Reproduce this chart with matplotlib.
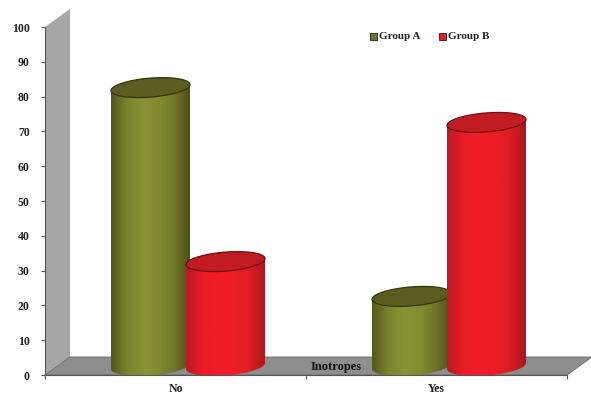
import numpy as np
import matplotlib
matplotlib.use("Agg")
import matplotlib.pyplot as plt
from matplotlib.colors import LinearSegmentedColormap
from matplotlib.patches import Polygon, PathPatch, Rectangle
from matplotlib.path import Path

categories = ["No", "Yes"]
group_a = [80, 20]
group_b = [30, 70]
y_ticks = [0, 10, 20, 30, 40, 50, 60, 70, 80, 90, 100]

plt.rcParams['font.family'] = ['Liberation Serif', 'DejaVu Serif']
plt.rcParams['font.weight'] = 'bold'

W, H = 591, 394
fig = plt.figure(figsize=(W / 100, H / 100), dpi=100)
ax = fig.add_axes([45 / W, (H - 375) / H, (567 - 45) / W, (375 - 27) / H])
ax.set_xlim(0, 2)
ax.set_ylim(0, 100)

px_x = 2 / (567 - 45)
px_y = 100 / (375 - 27)
depth_x = 25 * px_x
depth_y = 18 * px_y

# back wall and floor
ax.add_patch(Polygon([(0, 0), (depth_x, depth_y), (depth_x, 100 + depth_y), (0, 100)],
                     closed=True, fc="#a6a6a6", ec="none", clip_on=False, zorder=1))
ax.add_patch(Polygon([(0, 0), (depth_x, depth_y), (2 + depth_x, depth_y), (2, 0)],
                     closed=True, fc="#8e8e8e", ec="#6a6a6a", lw=0.6, clip_on=False, zorder=2))

cm_a = LinearSegmentedColormap.from_list("a", ["#54581a", "#7c812e", "#8a9036", "#868b33", "#73782a", "#4c4f16"])
cm_b = LinearSegmentedColormap.from_list("b", ["#b81a22", "#ea1c25", "#ef1c25", "#ee1c25", "#de1c24", "#a81a20"])
top_a = "#5c5c20"
top_b = "#c01c22"
edge_a = "#34360e"
edge_b = "#6e1014"

half_w = 39.5 * px_x
half_h = 9.5 * px_y
tilt = 3 * px_y
shift = 37.5 * px_x
base = depth_y / 2
grad = np.linspace(0, 1, 128).reshape(1, -1)


def cylinder(xc, val, cmap, top_col, edge_col, z):
    # body with rounded, slightly tilted bottom, gradient clipped to it
    top = base + val
    t = np.linspace(np.pi, 2 * np.pi, 60)
    xs = xc + half_w * np.cos(t)
    ys = base + half_h * np.sin(t) + tilt * np.cos(t)
    verts = [(xc - half_w, top - tilt)] + list(zip(xs, ys)) + [(xc + half_w, top + tilt), (xc - half_w, top - tilt)]
    codes = [Path.MOVETO] + [Path.LINETO] * (len(verts) - 2) + [Path.CLOSEPOLY]
    body = PathPatch(Path(verts, codes), fc="none", ec="none", transform=ax.transData)
    ax.add_patch(body)
    im = ax.imshow(grad, cmap=cmap, aspect="auto", zorder=z,
                   extent=[xc - half_w, xc + half_w, base - half_h - tilt, top + tilt])
    im.set_clip_path(body)
    t = np.linspace(0, 2 * np.pi, 120)
    lid = np.column_stack([xc + half_w * np.cos(t), top + half_h * np.sin(t) + tilt * np.cos(t)])
    ax.add_patch(Polygon(lid, closed=True, fc=top_col, ec=edge_col, lw=0.9, zorder=z + 0.1))


for i in range(len(categories)):
    xc = i + 0.5 + depth_x / 2
    cylinder(xc - shift, group_a[i], cm_a, top_a, edge_a, 3)
    cylinder(xc + shift, group_b[i], cm_b, top_b, edge_b, 4)

ax.set_xlim(0, 2)
ax.set_ylim(0, 100)
ax.patch.set_visible(False)

for s in ["top", "right"]:
    ax.spines[s].set_visible(False)
ax.spines["left"].set_color("#555555")
ax.spines["bottom"].set_color("#555555")
ax.spines["left"].set_zorder(2.5)
ax.spines["bottom"].set_zorder(2.5)

ax.set_yticks(y_ticks)
ax.tick_params(axis="y", length=3, width=0.8, color="#555555", pad=8, labelsize=8.5, labelcolor="#222222")
ax.set_xticks([0, 1, 2])
ax.set_xticklabels([])
ax.set_xticks([0.5, 1.5], minor=True)
ax.set_xticklabels(categories, minor=True, fontsize=8.5, color="#222222")
ax.tick_params(axis="x", which="major", length=3, width=0.8, color="#555555")
ax.tick_params(axis="x", which="minor", length=0, pad=6)

ax.text(336 / W, (H - 367) / H, "Inotropes", transform=fig.transFigure, ha="center", va="center",
        fontsize=9, color="#111111", zorder=10)

# legend
for name, col, px, tx in [("Group A", "#70742a", 370, 379), ("Group B", "#e81c25", 439, 448)]:
    fig.add_artist(Rectangle((px / W, (H - 40) / H), 7 / W, 7 / H, transform=fig.transFigure,
                             fc=col, ec="#333333", lw=0.7))
    fig.text(tx / W, (H - 36.5) / H, name, ha="left", va="center", fontsize=8, color="#222222")

fig.savefig("out.png", dpi=100)
